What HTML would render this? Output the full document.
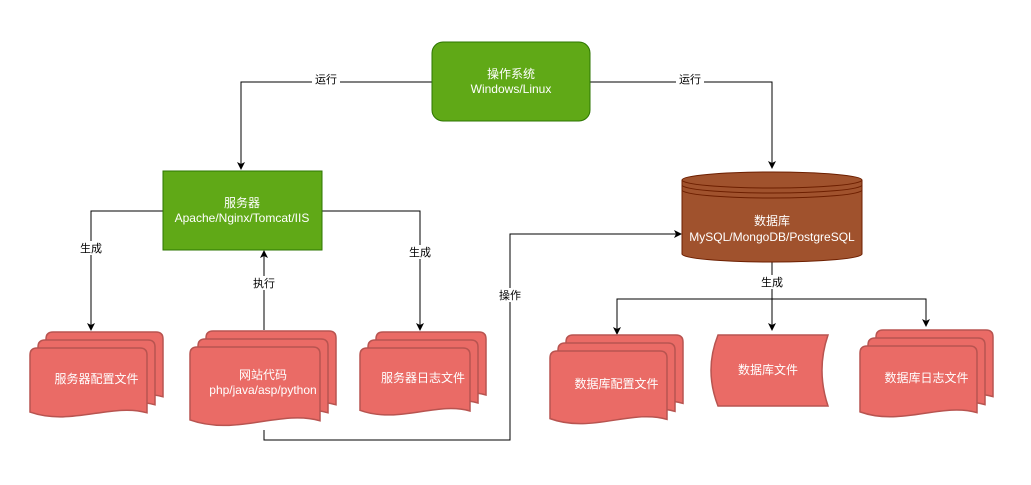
<!DOCTYPE html>
<html><head><meta charset="utf-8"><style>
html,body{margin:0;padding:0;background:#fff;width:1031px;height:485px;overflow:hidden}
svg text{font-family:"Liberation Sans","Noto Sans CJK SC",sans-serif}
</style></head><body>
<svg id="s" width="1031" height="485" viewBox="0 0 1031 485" xmlns="http://www.w3.org/2000/svg">
<defs><marker id="a" markerWidth="8" markerHeight="8" refX="7" refY="4" orient="auto" markerUnits="userSpaceOnUse"><path d="M0,0 L8,4 L0,8 L2,4 Z" fill="#000"/></marker></defs>
<g fill="none" stroke="#000" stroke-width="1">
<path d="M432,82 H241 V169" marker-end="url(#a)"/>
<path d="M590,82 H772 V168" marker-end="url(#a)"/>
<path d="M163,211 H91 V330" marker-end="url(#a)"/>
<path d="M322,211 H420 V330" marker-end="url(#a)"/>
<path d="M264,330 V251" marker-end="url(#a)"/>
<path d="M264,430 V440 H510 V234 H681" marker-end="url(#a)"/>
<path d="M772,262 V330" marker-end="url(#a)"/>
<path d="M772,299 H617 V334" marker-end="url(#a)"/>
<path d="M772,299 H926 V326" marker-end="url(#a)"/>
</g>
<rect x="432" y="42" width="158" height="79" rx="11" fill="#60a917" stroke="#2d7600"/>
<text x="511" y="78" fill="#fff" font-size="12" text-anchor="middle">操作系统</text>
<text x="511" y="93" fill="#fff" font-size="12" text-anchor="middle">Windows/Linux</text>
<rect x="163" y="171" width="159" height="79" fill="#60a917" stroke="#2d7600"/>
<text x="242" y="207" fill="#fff" font-size="12" text-anchor="middle">服务器</text>
<text x="242" y="222" fill="#fff" font-size="12" text-anchor="middle">Apache/Nginx/Tomcat/IIS</text>
<g fill="#a0522d" stroke="#6d1f00">
<path d="M682,180 A90,8 0 0 1 862,180 V254 A90,8 0 0 1 682,254 Z"/>
<path d="M682,180 A90,8 0 0 0 862,180" fill="none"/>
<path d="M682,185 A90,8 0 0 0 862,185" fill="none"/>
<path d="M682,190 A90,8 0 0 0 862,190" fill="none"/>
</g>
<text x="772" y="225" fill="#fff" font-size="12" text-anchor="middle">数据库</text>
<text x="772" y="241" fill="#fff" font-size="12" text-anchor="middle">MySQL/MongoDB/PostgreSQL</text>
<path d="M718,335 H828 Q816,370 828,406 H718 Q704,370 718,335 Z" fill="#ea6b66" stroke="#b85450" stroke-width="1.5"/>
<text x="768" y="374" fill="#fff" font-size="12" text-anchor="middle">数据库文件</text>
<g id="docs"></g>
<g font-size="11" text-anchor="middle">
<rect x="312" y="72" width="28" height="14" fill="#fff"/><text x="326" y="83">运行</text>
<rect x="676" y="72" width="28" height="14" fill="#fff"/><text x="690" y="83">运行</text>
<rect x="77" y="241" width="28" height="14" fill="#fff"/><text x="91" y="252">生成</text>
<rect x="406" y="245" width="28" height="14" fill="#fff"/><text x="420" y="256">生成</text>
<rect x="250" y="276" width="28" height="14" fill="#fff"/><text x="264" y="287">执行</text>
<rect x="496" y="288" width="28" height="14" fill="#fff"/><text x="510" y="299">操作</text>
<rect x="758" y="275" width="28" height="14" fill="#fff"/><text x="772" y="286">生成</text>
</g>
</svg>
<script>
function doc(x,y,w,h){var r=7,d=h*0.1;
return 'M'+x+','+(y+r)+' Q'+x+','+y+' '+(x+r)+','+y+' L'+(x+w-r)+','+y+' Q'+(x+w)+','+y+' '+(x+w)+','+(y+r)+
' L'+(x+w)+','+(y+h-d)+' C'+(x+w*0.7)+','+(y+h-d*2.4)+' '+(x+w*0.35)+','+(y+h+d*0.9)+' '+x+','+(y+h-d*1.1)+' Z';}
function multi(x,y,w,h,lines){var s='';
for(var i=2;i>=0;i--){s+='<path d="'+doc(x+i*8,y-i*8,w,h)+'" fill="#ea6b66" stroke="#b85450" stroke-width="1.5"/>';}
var cx=x+w/2+8,cy=y+h/2-5;
if(lines.length==1)s+='<text x="'+cx+'" y="'+(cy+4)+'" fill="#fff" font-size="12" text-anchor="middle">'+lines[0]+'</text>';
else{s+='<text x="'+cx+'" y="'+(cy-4)+'" fill="#fff" font-size="12" text-anchor="middle">'+lines[0]+'</text>';
s+='<text x="'+cx+'" y="'+(cy+11)+'" fill="#fff" font-size="12" text-anchor="middle">'+lines[1]+'</text>';}
return s;}
document.getElementById('docs').innerHTML=
multi(30,348,117,72,['服务器配置文件'])+
multi(190,347,130,82,['网站代码','php/java/asp/python'])+
multi(360,348,110,70,['服务器日志文件'])+
multi(550,351,117,76,['数据库配置文件'])+
multi(860,346,117,74,['数据库日志文件']);
</script>
</body></html>
